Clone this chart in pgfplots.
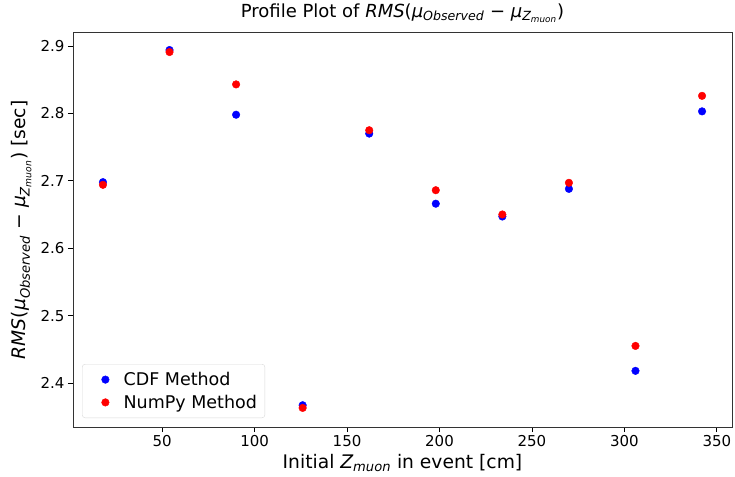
\documentclass[border=0pt]{standalone}
\usepackage{fontspec}
\setmainfont{DejaVu Sans}
\usepackage{pgfplots}
\pgfplotsset{compat=1.18}
\pgfplotstableread{
x cdf numpy
18 2.698 2.694
54 2.894 2.891
90 2.798 2.843
126 2.367 2.363
162 2.770 2.775
198 2.666 2.686
234 2.647 2.650
270 2.688 2.697
306 2.418 2.455
342 2.803 2.826
}\datatable
\pgfplotsset{wideleg/.style={legend image code/.code={\path (0pt,0pt) (33pt,0pt); \draw[mark repeat=2, mark phase=2, ##1] plot coordinates {(0pt,0pt) (17pt,0pt) (33pt,0pt)};}}}
\newcommand{\RMSexpr}{{\itshape RMS}({\itshape μ\textsubscript{Observed}} − {\itshape μ\textsubscript{Z\textsubscript{muon}}})}
\begin{document}
\begin{tikzpicture}
\path[use as bounding box] (-73pt,-49pt) rectangle (662pt,427pt);
\begin{axis}[
  at={(0pt,0pt)}, anchor=south west,
  scale only axis, width=659pt, height=394.3pt,
  xmin=1.8, xmax=358.2, ymin=2.3347, ymax=2.9197,
  xtick={50,100,150,200,250,300,350},
  ytick={2.4,2.5,2.6,2.7,2.8,2.9},
  yticklabel style={/pgf/number format/.cd, fixed, fixed zerofill, precision=1},
  /pgf/number format/assume math mode=true,
  tick label style={font=\fontsize{15}{18}\selectfont},
  tick align=outside, xtick pos=bottom, ytick pos=left,
  major tick length=5pt,
  every tick/.style={black, line width=0.8pt},
  axis line style={black!80, line width=0.9pt},
  title={Profile Plot of \RMSexpr},
  title style={font=\fontsize{18}{21}\selectfont, at={(0.5,1)}, anchor=south, yshift=1pt},
  xlabel={Initial {\itshape Z\textsubscript{muon}} in event [cm]},
  ylabel={\RMSexpr\ [sec]},
  label style={font=\fontsize{18.7}{22}\selectfont},
  xlabel style={at={(0.5,0)}, anchor=north, yshift=-24pt},
  ylabel style={at={(0,0.5)}, anchor=south, yshift=38pt},
  legend style={at={(0,0)}, anchor=south west, xshift=9pt, yshift=9pt,
    draw=black!15, rounded corners=3pt, font=\fontsize{17.5}{20}\selectfont,
    inner xsep=6pt, inner ysep=6pt, row sep=4pt},
  legend cell align=left,
]
\addplot[only marks, mark=*, mark size=3.8pt, draw=blue, fill=blue, wideleg] table[x=x, y=cdf] {\datatable};
\addlegendentry{CDF Method}
\addplot[only marks, mark=*, mark size=3.8pt, draw=red, fill=red, wideleg] table[x=x, y=numpy] {\datatable};
\addlegendentry{NumPy Method}
\node[anchor=south west, font=\fontsize{11}{13}\selectfont, inner sep=0pt] at (rel axis cs:0,1) [yshift=3pt] {1e−6};
\end{axis}
\end{tikzpicture}
\end{document}
